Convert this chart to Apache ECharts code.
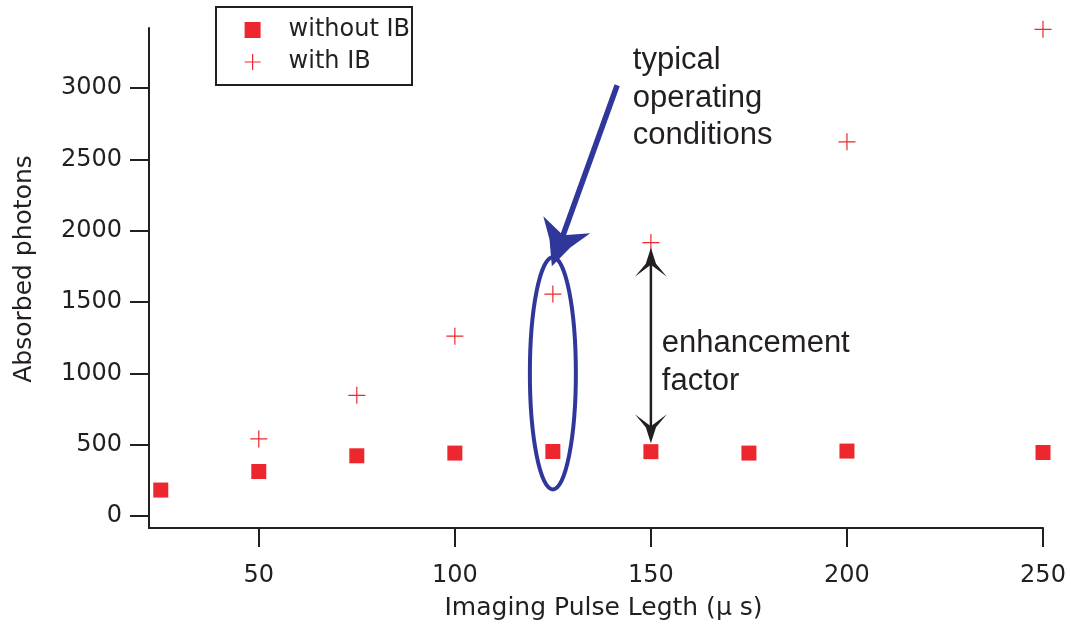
<!DOCTYPE html>
<html>
<head>
<meta charset="utf-8">
<script src="https://cdn.jsdelivr.net/npm/echarts@6/dist/echarts.min.js"></script>
<style>
  html, body { margin: 0; padding: 0; background: #fff; }
  #main { width: 1071px; height: 628px; }
</style>
</head>
<body>
<div id="main"></div>
<script>
// Imaging pulse length (µs) and absorbed photon counts
const pulseNoIB = [25, 50, 75, 100, 125, 150, 175, 200, 250];
const photonsNoIB = [182, 312, 422, 441, 452, 451, 441, 455, 445];
const pulseIB = [50, 75, 100, 125, 150, 200, 250];
const photonsIB = [540, 846, 1260, 1555, 1916, 2622, 3411];

const xTicks = [50, 100, 150, 200, 250];
const yTicks = [0, 500, 1000, 1500, 2000, 2500, 3000];
const seriesNames = ['without IB', 'with IB'];
const xTitle = 'Imaging Pulse Legth (\u03BC s)';
const yTitle = 'Absorbed photons';
const noteTypical = 'typical\noperating\nconditions';
const noteFactor = 'enhancement\nfactor';

const RED = '#ec282e';
const BLUE = '#30379a';
const INK = '#231f20';
const PLUS = 'path://M0,8L16,8M8,0L8,16';
const AXIS_FONT = 'DejaVu Sans';

const chart = echarts.init(document.getElementById('main'), null, { renderer: 'canvas' });

const option = {
  animation: false,
  backgroundColor: '#ffffff',
  grid: { left: 149, right: 28, top: 28, bottom: 100, containLabel: false, outerBoundsMode: 'none' },
  legend: {
    left: 216, top: 7, orient: 'vertical',
    padding: [9, 2, 9, 28],
    itemWidth: 16, itemHeight: 16, itemGap: 4,
    borderColor: INK, borderWidth: 2, borderRadius: 0,
    selectedMode: false,
    textStyle: { fontFamily: AXIS_FONT, fontSize: 24, color: INK, lineHeight: 28, padding: [0, 0, 0, 23] },
    data: [
      { name: seriesNames[0], icon: 'rect', itemStyle: { color: RED, opacity: 1 } },
      { name: seriesNames[1], icon: PLUS, itemStyle: { color: 'transparent', borderColor: RED, borderWidth: 1.2, opacity: 1 } }
    ]
  },
  xAxis: {
    type: 'value', min: 22, max: 250,
    axisLine: { show: true, onZero: false, lineStyle: { color: INK, width: 2 } },
    axisTick: { show: true, inside: false, length: 19, customValues: xTicks, lineStyle: { color: INK, width: 2 } },
    axisLabel: { customValues: xTicks, margin: 36, color: INK, fontFamily: AXIS_FONT, fontSize: 24, formatter: (v) => String(v) },
    splitLine: { show: false },
    name: xTitle, nameLocation: 'middle', nameGap: 68,
    nameTextStyle: { fontFamily: AXIS_FONT, fontSize: 25, color: INK, padding: [0, 0, 0, 15] }
  },
  yAxis: {
    type: 'value', min: -84, max: 3420,
    axisLine: { show: true, onZero: false, lineStyle: { color: INK, width: 2 } },
    axisTick: { show: true, inside: false, length: 19, customValues: yTicks, lineStyle: { color: INK, width: 2 } },
    axisLabel: { customValues: yTicks, margin: 27, color: INK, fontFamily: AXIS_FONT, fontSize: 24, formatter: (v) => String(v) },
    splitLine: { show: false },
    name: yTitle, nameLocation: 'middle', nameGap: 112, nameRotate: 90,
    nameTextStyle: { fontFamily: AXIS_FONT, fontSize: 25, color: INK, padding: [0, 0, 0, 18] }
  },
  series: [
    {
      name: seriesNames[0], type: 'scatter', clip: false,
      symbol: 'rect', symbolSize: 15,
      itemStyle: { color: RED, opacity: 1 },
      data: pulseNoIB.map((x, i) => [x, photonsNoIB[i]])
    },
    {
      name: seriesNames[1], type: 'scatter', clip: false,
      symbol: PLUS, symbolSize: 17,
      itemStyle: { color: 'transparent', borderColor: RED, borderWidth: 1.2, opacity: 1 },
      data: pulseIB.map((x, i) => [x, photonsIB[i]])
    }
  ]
};
chart.setOption(option);

// ---- annotations, anchored in data space ----
const toPx = (p) => chart.convertToPixel({ gridIndex: 0 }, p);

// arrowhead with slightly swept sides; dir points from the tip back along the shaft
function arrowHead(tip, dir, len, half, notch, sweep) {
  const ux = dir[0], uy = dir[1];
  const px = -uy, py = ux;
  const at = (u, p) => [tip[0] + ux * u + px * p, tip[1] + uy * u + py * p];
  return [
    tip,
    at(len * 0.55, half * sweep),
    at(len, half),
    at(notch, 0),
    at(len, -half),
    at(len * 0.55, -half * sweep)
  ];
}
function unit(a, b) {
  const dx = b[0] - a[0], dy = b[1] - a[1];
  const l = Math.hypot(dx, dy);
  return [dx / l, dy / l];
}

// ellipse around the typical operating point
const ellC = toPx([125, 1000]);
const ellTop = toPx([125, 1814]);
const ellRy = ellC[1] - ellTop[1];
const ellRx = 23;

// blue pointer from the label down to the ellipse
const blueStart = toPx([141.4, 3019]);
const blueTip = [ellC[0] - 1, ellTop[1] + 9];
const blueDir = unit(blueTip, blueStart);
const blueShaftEnd = [blueTip[0] + blueDir[0] * 30, blueTip[1] + blueDir[1] * 30];

// double-headed arrow showing the enhancement factor
const enhTop = toPx([150, 1880]);
const enhBot = toPx([150, 510]);

const labelTypical = toPx([145.4, 3020]);
const labelFactor = toPx([152.8, 1060]);

chart.setOption({
  graphic: [
    {
      type: 'ellipse', z: 10,
      shape: { cx: ellC[0], cy: ellC[1], rx: ellRx, ry: ellRy },
      style: { fill: 'none', stroke: BLUE, lineWidth: 4 }
    },
    {
      type: 'line', z: 11,
      shape: { x1: blueStart[0], y1: blueStart[1], x2: blueShaftEnd[0], y2: blueShaftEnd[1] },
      style: { stroke: BLUE, lineWidth: 5.5 }
    },
    {
      type: 'polygon', z: 11,
      shape: { points: arrowHead(blueTip, blueDir, 44, 25, 33, 0.45) },
      style: { fill: BLUE }
    },
    {
      type: 'line', z: 11,
      shape: { x1: enhTop[0], y1: enhTop[1] + 15, x2: enhBot[0], y2: enhBot[1] - 15 },
      style: { stroke: INK, lineWidth: 2.5 }
    },
    {
      type: 'polygon', z: 11,
      shape: { points: arrowHead(enhTop, [0, 1], 29, 16, 17, 0.32) },
      style: { fill: INK }
    },
    {
      type: 'polygon', z: 11,
      shape: { points: arrowHead(enhBot, [0, -1], 29, 16, 17, 0.32) },
      style: { fill: INK }
    },
    {
      type: 'text', z: 12,
      x: labelTypical[0], y: labelTypical[1] - 43,
      style: { text: noteTypical, font: '31px "Liberation Sans", Arial, sans-serif', fill: INK, lineHeight: 37.5, align: 'left', verticalAlign: 'top' }
    },
    {
      type: 'text', z: 12,
      x: labelFactor[0], y: labelFactor[1] - 40,
      style: { text: noteFactor, font: '31px "Liberation Sans", Arial, sans-serif', fill: INK, lineHeight: 37.5, align: 'left', verticalAlign: 'top' }
    }
  ]
});
</script>
</body>
</html>
